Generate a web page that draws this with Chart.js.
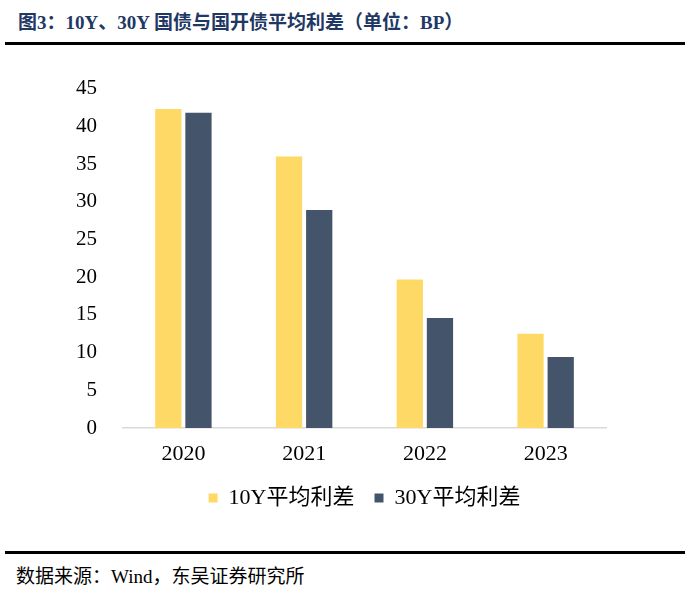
<!DOCTYPE html>
<html>
<head>
<meta charset="utf-8">
<script src="https://cdn.jsdelivr.net/npm/chart.js@4.4.0/dist/chart.umd.min.js"></script>
<style>
  body { margin: 0; background: #fff; width: 685px; height: 600px; position: relative; overflow: hidden; }
  .title { position: absolute; left: 18px; top: 7px; font: bold 19px "Liberation Serif", "Noto Sans CJK SC", serif; color: #1f3864; white-space: nowrap; }
  .rule { position: absolute; left: 5px; right: 0; height: 3px; background: #000; }
  .source { position: absolute; left: 16px; top: 561px; font: 19px "Liberation Serif", "Noto Sans CJK SC", serif; color: #000; white-space: nowrap; }
  #wrap { position: absolute; left: 0; top: 50px; width: 685px; height: 490px; }
</style>
</head>
<body>
<div class="title">图3：10Y、30Y 国债与国开债平均利差（单位：BP）</div>
<div class="rule" style="top:42px"></div>
<div id="wrap"><canvas id="chart"></canvas></div>
<div class="rule" style="top:551px"></div>
<div class="source">数据来源：Wind，东吴证券研究所</div>
<script>
const years = ['2020', '2021', '2022', '2023'];
const spread10Y = [42.3, 36.0, 19.7, 12.5];
const spread30Y = [41.8, 28.9, 14.6, 9.4];
const yTicks = [0, 5, 10, 15, 20, 25, 30, 35, 40, 45];

const serif = '"Liberation Serif", "Noto Sans CJK SC", serif';

const ctx = document.getElementById('chart').getContext('2d');
new Chart(ctx, {
  type: 'bar',
  data: {
    labels: years,
    datasets: [
      { label: '10Y平均利差', data: spread10Y, backgroundColor: '#ffd966' },
      { label: '30Y平均利差', data: spread30Y, backgroundColor: '#44546a' }
    ]
  },
  options: {
    responsive: true,
    maintainAspectRatio: false,
    animation: false,
    categoryPercentage: 0.5,
    barPercentage: 0.87,
    layout: { padding: { top: 20, right: 79, bottom: 21, left: 0 } },
    plugins: {
      tooltip: { enabled: false },
      legend: {
        position: 'bottom',
        fullSize: false,
        labels: {
          font: { family: serif, size: 22 },
          color: '#000',
          boxWidth: 9,
          boxHeight: 9,
          padding: 20
        }
      }
    },
    scales: {
      x: {
        grid: { display: false, drawTicks: false },
        border: { color: '#d9d9d9', width: 1.5 },
        ticks: { font: { family: serif, size: 22 }, color: '#000', padding: 13 },
        afterFit: s => { s.height = 39; }
      },
      y: {
        min: 0,
        max: 45,
        afterBuildTicks: s => { s.ticks = yTicks.map(v => ({ value: v })); },
        grid: { display: false, drawTicks: false },
        border: { display: false },
        ticks: { font: { family: serif, size: 21 }, color: '#000', padding: 26 },
        afterFit: s => { s.width = 123; }
      }
    }
  }
});
</script>
</body>
</html>
